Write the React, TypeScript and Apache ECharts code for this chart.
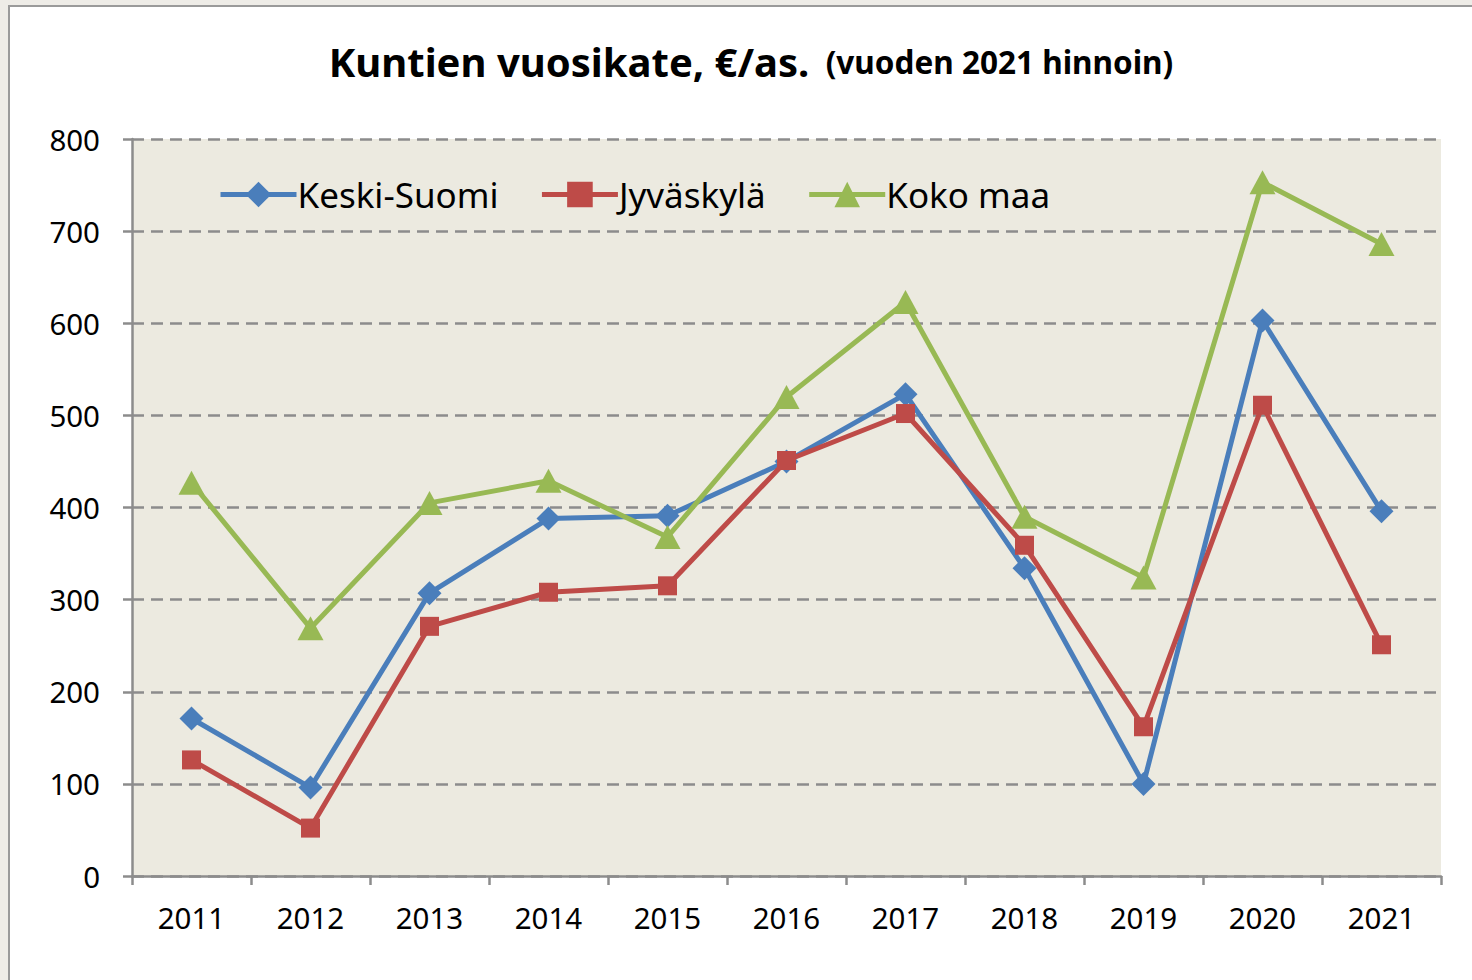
import React, { useEffect, useRef } from "react";
import * as echarts from "echarts";

const years = ["2011", "2012", "2013", "2014", "2015", "2016", "2017", "2018", "2019", "2020", "2021"];
const keskiSuomi = [171, 96, 307, 388, 391, 450, 523, 334, 100, 603, 396];
const jyvaskyla = [126, 52, 271, 308, 315, 451, 502, 359, 162, 511, 251];
const kokoMaa = [427, 269, 405, 429, 368, 520, 623, 390, 324, 753, 686];
const seriesNames = ["Keski-Suomi", "Jyväskylä", "Koko maa"];
const colors = ["#4A7EBB", "#BE4B48", "#98B954"];

const FONT = "'Noto Sans', 'Open Sans', sans-serif";

export default function App() {
  const ref = useRef<HTMLDivElement>(null);
  useEffect(() => {
    document.body.style.margin = "0";
    const chart = echarts.init(ref.current!, null, { renderer: "svg" });
    chart.setOption({
      animation: false,
      backgroundColor: "#EEECE7",
      graphic: [
        {
          type: "rect",
          z: -10,
          shape: { x: 9, y: 6, width: 1500, height: 1000 },
          style: { fill: "#FFFFFF", stroke: "#9A9A9A", lineWidth: 2 },
        },
      ],
      title: {
        text: "{a|Kuntien vuosikate, €/as.}{b|  (vuoden 2021 hinnoin)}",
        left: 746,
        textAlign: "center",
        top: 36,
        textStyle: {
          rich: {
            a: { fontFamily: FONT, fontWeight: "bold", fontSize: 40, color: "#000" },
            b: { fontFamily: FONT, fontWeight: "bold", fontSize: 31.5, color: "#000" },
          },
        },
      },
      legend: {
        data: seriesNames,
        left: 213,
        top: 172,
        itemWidth: 76,
        itemHeight: 32,
        itemGap: 41,
        lineStyle: { width: 5 },
        textStyle: { fontFamily: FONT, fontSize: 35, color: "#000", padding: [0, 0, 0, -4] },
      },
      grid: { left: 132, right: 31, top: 139, bottom: 104, containLabel: false, show: true, backgroundColor: "#ECEAE0", borderWidth: 0 },
      xAxis: {
        type: "category",
        data: years,
        boundaryGap: true,
        axisLine: { lineStyle: { color: "#8C8C8C", width: 2.5 } },
        axisTick: { show: true, length: 9, alignWithLabel: false, lineStyle: { color: "#8C8C8C", width: 2.5 } },
        axisLabel: { fontFamily: FONT, fontSize: 29.5, color: "#000", margin: 26 },
      },
      yAxis: {
        type: "value",
        min: 0,
        max: 800,
        interval: 100,
        axisLine: { show: true, lineStyle: { color: "#8C8C8C", width: 2.5 } },
        axisTick: { show: true, length: 9, lineStyle: { color: "#8C8C8C", width: 2.5 } },
        axisLabel: { fontFamily: FONT, fontSize: 29.5, color: "#000", margin: 32 },
        splitLine: { show: true, lineStyle: { color: "#8C8C8C", width: 2.5, type: [12, 7] } },
      },
      series: [
        {
          name: seriesNames[0],
          type: "line",
          data: keskiSuomi,
          symbol: "diamond",
          symbolSize: 24,
          lineStyle: { color: colors[0], width: 5 },
          itemStyle: { color: colors[0] },
          z: 3,
        },
        {
          name: seriesNames[1],
          type: "line",
          data: jyvaskyla,
          symbol: "rect",
          symbolSize: 19,
          lineStyle: { color: colors[1], width: 5 },
          itemStyle: { color: colors[1] },
          z: 4,
        },
        {
          name: seriesNames[2],
          type: "line",
          data: kokoMaa,
          symbol: "triangle",
          symbolSize: [26, 24],
          lineStyle: { color: colors[2], width: 5 },
          itemStyle: { color: colors[2] },
          z: 5,
        },
      ],
    });
    return () => chart.dispose();
  }, []);
  return <div ref={ref} style={{ position: "fixed", left: 0, top: 0, width: 1472, height: 980 }} />;
}
